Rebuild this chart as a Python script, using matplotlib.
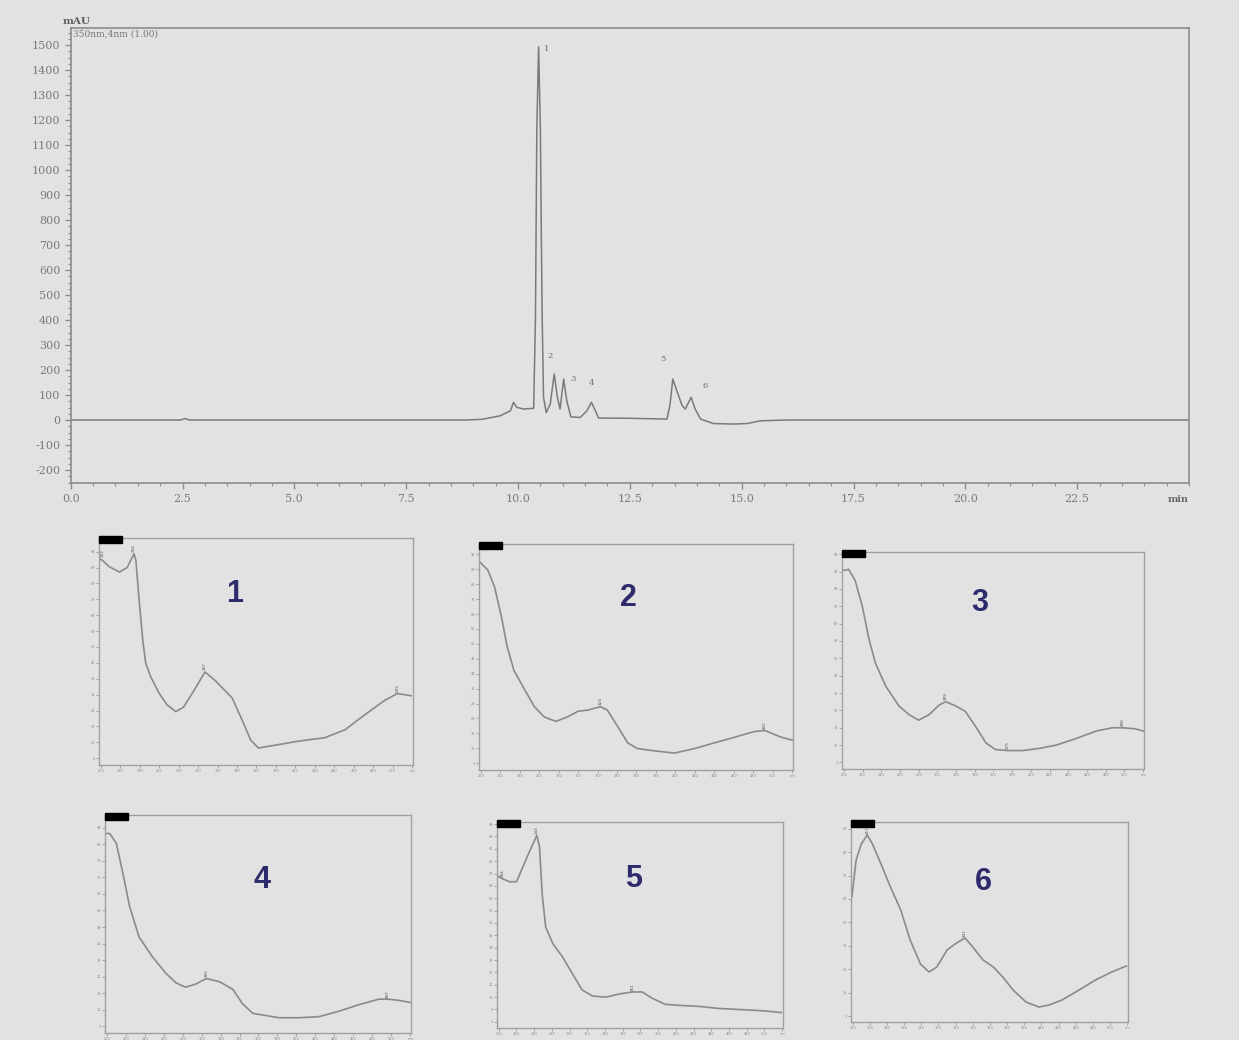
import numpy as np
import matplotlib.pyplot as plt
from matplotlib.patches import Rectangle
from matplotlib.ticker import MultipleLocator

plt.rcParams['axes.unicode_minus'] = False

# chromatogram at 350 nm (min, mAU)
ret_time = [0.0, 2.45, 2.56, 2.65, 3.0, 8.8, 9.2, 9.6, 9.83, 9.9, 9.97, 10.12, 10.35, 10.39,
            10.42, 10.46, 10.5, 10.52, 10.54, 10.57, 10.63, 10.72, 10.81, 10.88, 10.94, 11.02,
            11.09, 11.18, 11.39, 11.54, 11.64, 11.73, 11.8, 12.51, 13.33, 13.4, 13.46, 13.55,
            13.67, 13.74, 13.87, 13.96, 14.08, 14.37, 14.82, 15.12, 15.42, 16.0, 25.0]
signal = [0, 0, 6, 0, 0, 0, 3, 17, 37, 71, 51, 44, 47, 411,
          1160, 1493, 1160, 759, 411, 91, 30, 64, 184, 91, 44, 164,
          77, 13, 10, 37, 71, 37, 8, 7, 4, 64, 164, 117,
          57, 44, 91, 44, 4, -14, -16, -14, -3, 0, 0]

peak_ids = ['1', '2', '3', '4', '5', '6']
peak_label_t = [10.65, 10.72, 11.23, 11.65, 13.24, 14.19]
peak_label_y = [1486, 258, 164, 147, 244, 137]

# UV spectra of the six peaks (nm, % of panel height)
spec1_nm = [198, 202, 208, 219, 227, 234, 236, 239, 243, 246, 251, 260, 268, 277, 285,
            296, 307, 318, 335, 345, 354, 362, 383, 403, 430, 451, 471, 492, 505, 519]
spec1_abs = [91, 90, 87.5, 85, 87, 93, 90, 74, 55, 45, 39, 31.5, 26.5, 23.5, 25.5,
             33, 41, 37, 29.5, 20, 11, 7.5, 9, 10.5, 12, 15.5, 22, 28.5, 31.5, 30.5]
spec2_nm = [199, 207, 214, 221, 227, 234, 245, 255, 265, 277, 289, 300, 310, 323,
            330, 341, 351, 361, 378, 399, 420, 440, 461, 481, 492, 509, 522]
spec2_abs = [92, 88.5, 81, 68, 54.5, 44, 35.5, 28, 23.5, 21.5, 23.5, 26, 26.5, 28,
             26.5, 19, 12, 9.5, 8.5, 7.5, 9.5, 12, 14.5, 17, 17.5, 14.5, 13]
spec3_nm = [200, 205, 212, 220, 227, 234, 245, 259, 270, 280, 291, 302, 309, 320,
            330, 341, 352, 362, 375, 391, 409, 427, 448, 470, 487, 498, 512, 524]
spec3_abs = [91.5, 92, 87, 74.5, 59.5, 48.5, 38, 29, 25, 22.5, 25, 29.5, 31, 29,
             26.5, 19.5, 12, 9, 8.5, 8.5, 9.5, 11, 14, 17.5, 19, 19, 18.5, 17]
spec4_nm = [198, 203, 210, 217, 224, 234, 248, 262, 273, 283, 294, 305, 319,
            333, 343, 354, 368, 382, 403, 424, 445, 466, 487, 497, 508, 520]
spec4_abs = [91.5, 91.5, 87, 73, 58, 44, 35, 27.5, 23, 21, 22.5, 25, 23.5,
             20, 13.5, 9, 8, 7, 7, 7.5, 10, 13, 15.5, 15.5, 15, 14]
spec5_nm = [198, 204, 212, 220, 227, 235, 243, 246, 249, 253, 261, 272, 283, 294,
            306, 321, 336, 351, 362, 373, 388, 403, 426, 448, 470, 493, 508, 519]
spec5_abs = [74, 72.5, 71, 71, 78, 86, 93.5, 88, 65, 49, 41, 34.5, 26.5, 18.5,
             15.5, 15, 16.5, 17.5, 17.5, 14.5, 11.5, 11, 10.5, 9.5, 9, 8.5, 8, 7.5]
spec6_nm = [199, 204, 210, 217, 223, 233, 244, 256, 267, 279, 289, 298, 310, 321,
            331, 340, 352, 364, 375, 387, 402, 417, 429, 444, 464, 483, 502, 519]
spec6_abs = [62.5, 81, 89, 93.5, 89, 79, 67.5, 56, 41, 29, 25, 27.5, 36, 39.5,
             42, 37.5, 31, 27.5, 22.5, 16, 10, 7.5, 8.5, 11, 16, 21, 25, 28]

spec_max1 = [(202, 91), (234, 93), (307, 41), (505, 31.5)]
spec_max2 = [(323, 28), (492, 17.5)]
spec_max3 = [(309, 31), (375, 8.5), (498, 19)]
spec_max4 = [(305, 25), (497, 15.5)]
spec_max5 = [(204, 72.5), (243, 93.5), (351, 17.5)]
spec_max6 = [(217, 93.5), (331, 42)]

spectra = [(spec1_nm, spec1_abs, spec_max1), (spec2_nm, spec2_abs, spec_max2),
           (spec3_nm, spec3_abs, spec_max3), (spec4_nm, spec4_abs, spec_max4),
           (spec5_nm, spec5_abs, spec_max5), (spec6_nm, spec6_abs, spec_max6)]
wl_ticks = list(range(200, 521, 20))
wl_labels = [str(w) for w in wl_ticks[:-1]] + ['nm']

W, H = 1239, 1040
bg = '#e2e2e2'
axis_col = '#8c8c8c'
text_col = '#7a7a7a'
line_col = '#7a7a7a'
num_col = '#2e2b6c'

fig = plt.figure(figsize=(W / 100, H / 100), dpi=100, facecolor=bg)

def px_axes(x0, y0, x1, y1):
    return fig.add_axes([x0 / W, 1 - y1 / H, (x1 - x0) / W, (y1 - y0) / H])

# --- chromatogram ---
ax = px_axes(70.7, 28, 1189, 483.3)
ax.set_facecolor(bg)
ax.plot(ret_time, signal, color=line_col, lw=1.1)
ax.set_xlim(0, 25)
ax.set_ylim(-253, 1568)
ax.xaxis.set_minor_locator(MultipleLocator(0.5))
ax.yaxis.set_major_locator(MultipleLocator(100))
ax.yaxis.set_minor_locator(MultipleLocator(25))
ax.set_xticks(np.arange(0, 25, 2.5))
ax.set_xticklabels([f'{v:.1f}' for v in np.arange(0, 25, 2.5)])
for sp in ax.spines.values():
    sp.set_color(axis_col)
    sp.set_linewidth(1.2)
ax.tick_params(which='both', colors=axis_col, labelcolor=text_col, direction='out')
ax.tick_params(which='major', length=4, width=1, labelsize=8)
ax.tick_params(which='minor', length=2, width=0.8)
for lab in ax.get_xticklabels() + ax.get_yticklabels():
    lab.set_family('DejaVu Serif')
ax.text(1.0, -0.025, 'min', transform=ax.transAxes, ha='right', va='top',
        fontsize=7, family='DejaVu Serif', fontweight='bold', color='#666666')
ax.text(-0.007, 1.005, 'mAU', transform=ax.transAxes, ha='left', va='bottom',
        fontsize=7.5, family='DejaVu Serif', fontweight='bold', color='#606060')
ax.text(0.002, 0.997, '350nm,4nm (1.00)', transform=ax.transAxes, ha='left', va='top',
        fontsize=6.5, family='DejaVu Serif', color='#777777')
for pid, t, y in zip(peak_ids, peak_label_t, peak_label_y):
    ax.text(t, y, pid, ha='center', va='center', fontsize=6,
            family='DejaVu Serif', color='#6f6f6f')

# --- spectra panels ---
panel_px = [(99, 538, 413, 765), (479, 544, 793, 770), (842, 552, 1144, 769),
            (105, 815, 411, 1033), (497, 822, 783, 1028), (851, 822, 1128, 1022)]
tick_step = [7, 6.6, 8, 7.6, 6, 11.7]
num_pos = [(0.433, 0.753), (0.475, 0.761), (0.457, 0.765),
           (0.513, 0.702), (0.476, 0.723), (0.477, 0.70)]

for i, (box, (nm, ab, maxima)) in enumerate(zip(panel_px, spectra)):
    sax = px_axes(*box)
    sax.set_facecolor(bg)
    sax.plot(nm, ab, color='#8a8a8a', lw=1.2, solid_joinstyle='round')
    sax.set_xlim(198, 521)
    sax.set_ylim(0, 100)
    sax.set_xticks(wl_ticks)
    sax.set_xticklabels(wl_labels)
    yt = np.arange(3, 100, tick_step[i])
    sax.set_yticks(yt)
    sax.set_yticklabels([f'{v:.0f}' for v in yt])
    for sp in sax.spines.values():
        sp.set_color('#a0a0a0')
        sp.set_linewidth(1.0)
    sax.tick_params(colors='#9a9a9a', labelcolor='#8a8a8a', length=2, width=0.6,
                    labelsize=2.5, pad=1)
    for w, a in maxima:
        sax.text(w, a + 2.5, str(w), rotation=90, ha='center', va='center',
                 fontsize=3, color='#555555')
    bw, bh = 23, 7
    pw, ph = box[2] - box[0], box[3] - box[1]
    sax.add_patch(Rectangle((0, 1 - 5 / ph), bw / pw, bh / ph, transform=sax.transAxes,
                            color='black', clip_on=False, zorder=5))
    sax.text(num_pos[i][0], num_pos[i][1], str(i + 1), transform=sax.transAxes,
             ha='center', va='center', fontsize=22, fontweight='bold',
             family='Liberation Sans', color=num_col)

fig.savefig('out.png', dpi=100, facecolor=bg)
